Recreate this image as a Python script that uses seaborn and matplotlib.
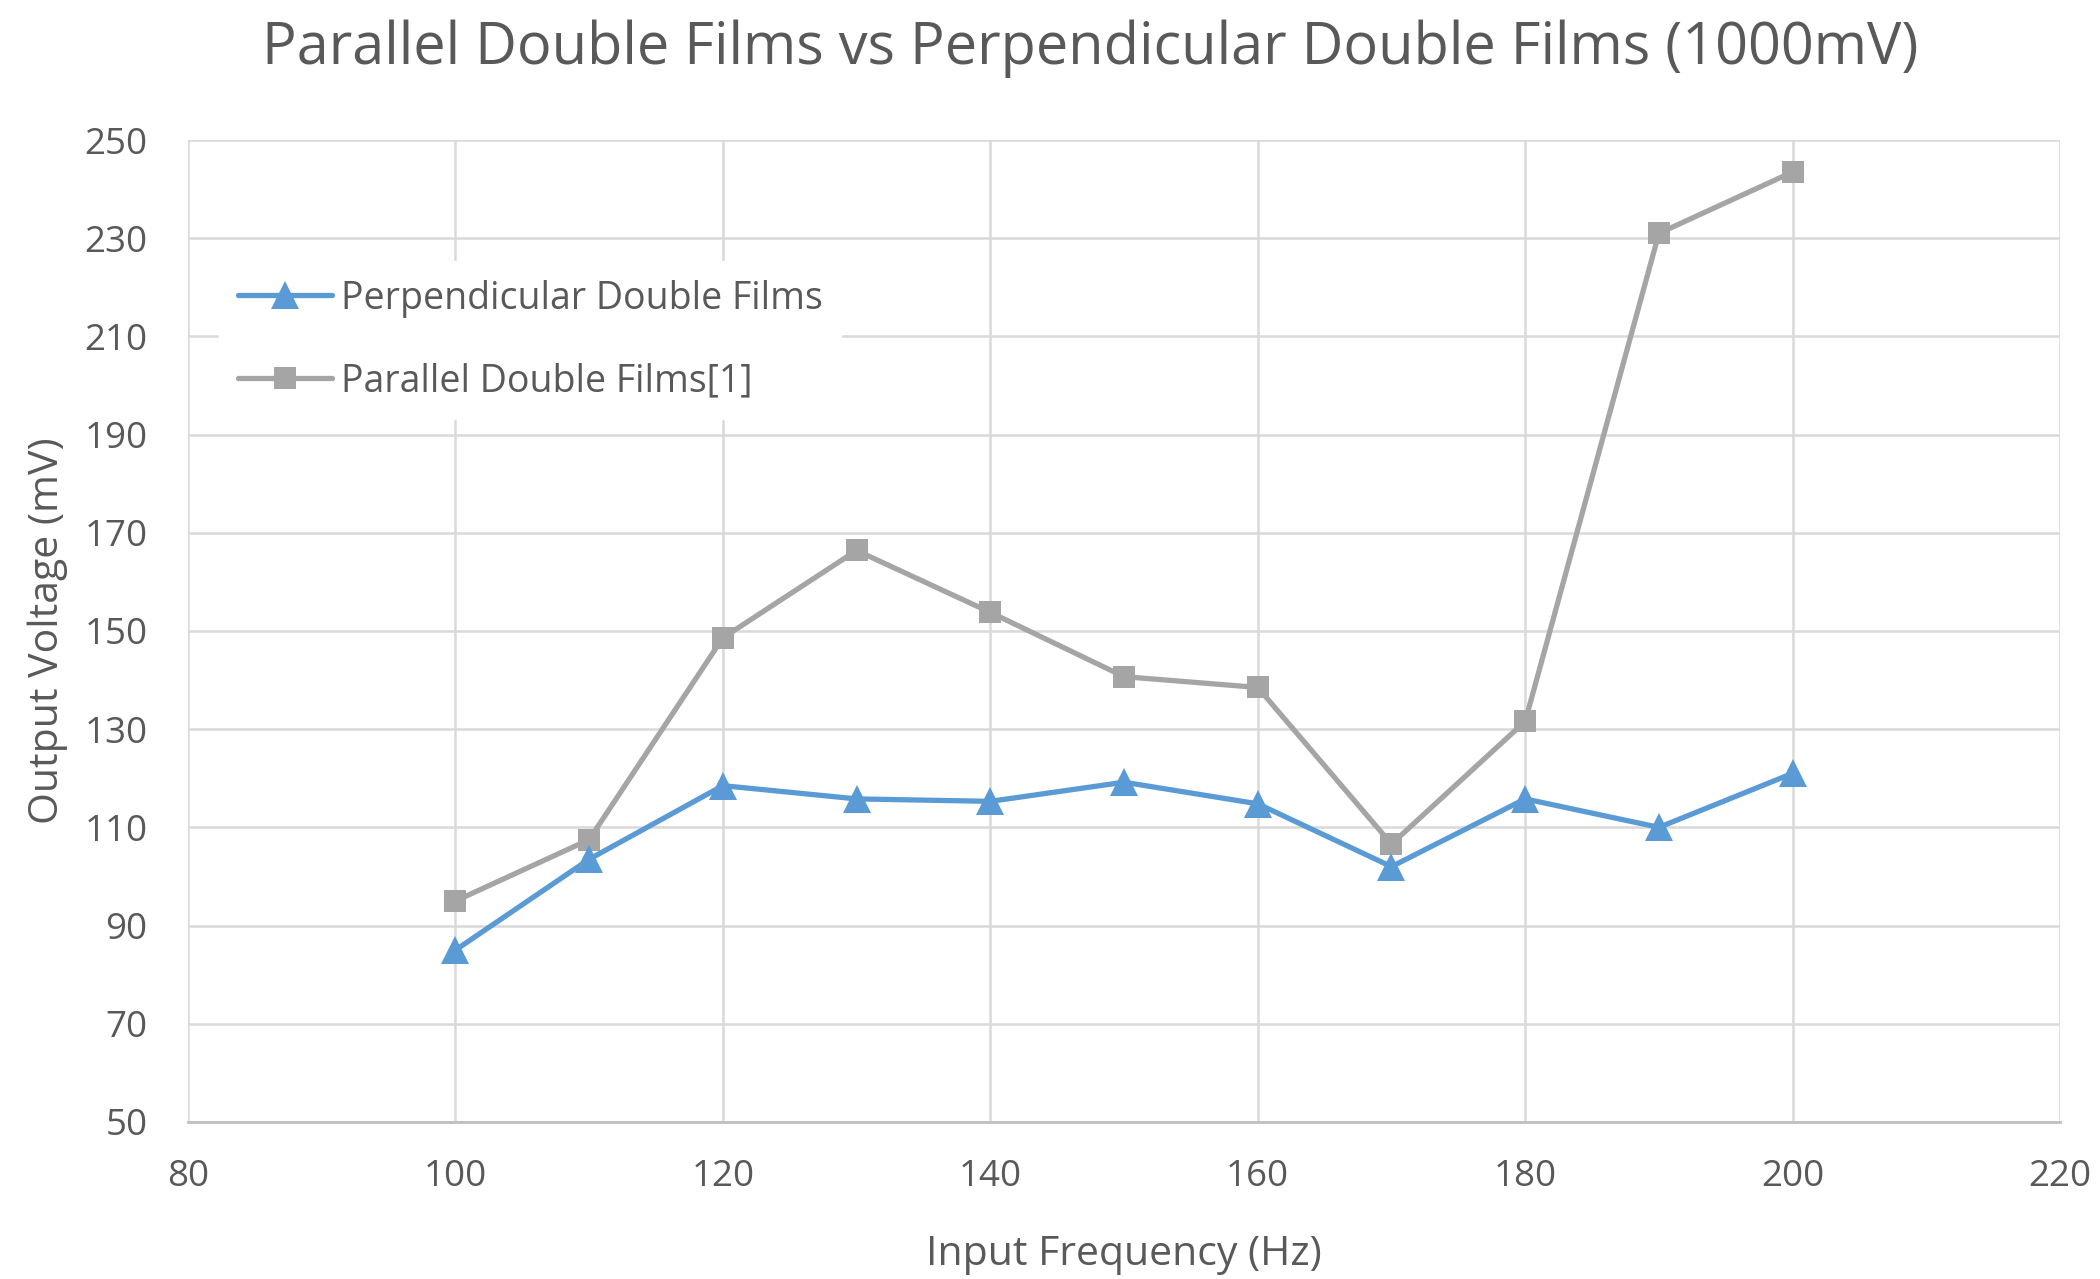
import matplotlib
matplotlib.use("Agg")
import matplotlib.pyplot as plt
import seaborn as sns
import pandas as pd
from matplotlib.lines import Line2D

frequency_hz = [100, 110, 120, 130, 140, 150, 160, 170, 180, 190, 200]
perpendicular_mv = [85.0, 103.5, 118.5, 115.8, 115.3, 119.2, 114.8, 102.0, 115.8, 110.0, 121.0]
parallel_mv = [95.0, 107.5, 148.6, 166.4, 153.8, 140.7, 138.5, 106.6, 131.6, 231.0, 243.5]

series_names = ["Perpendicular Double Films", "Parallel Double Films[1]"]
x_ticks = [80, 100, 120, 140, 160, 180, 200, 220]
y_ticks = [50, 70, 90, 110, 130, 150, 170, 190, 210, 230, 250]

title_text = "Parallel Double Films vs Perpendicular Double Films (1000mV)"
x_label = "Input Frequency (Hz)"
y_label = "Output Voltage (mV)"

df = pd.DataFrame({
    "freq": frequency_hz * 2,
    "volt": perpendicular_mv + parallel_mv,
    "series": [series_names[0]] * len(frequency_hz) + [series_names[1]] * len(frequency_hz),
})

sns.set_theme(style="white")
plt.rcParams["font.family"] = ["Open Sans", "DejaVu Sans"]

text_grey = "#595959"
grid_grey = "#D9D9D9"
blue = "#5B9BD5"
grey = "#A5A5A5"

fig = plt.figure(figsize=(21, 12.79), dpi=100)
ax = fig.add_axes([0.0895, 0.1228, 0.8915, 0.7677])

palette = {series_names[0]: blue, series_names[1]: grey}
markers = {series_names[0]: "^", series_names[1]: "s"}
sizes_pt = {series_names[0]: 20, series_names[1]: 15.5}
line_w = 3.8

# draw parallel first so the blue series sits on top
for name in [series_names[1], series_names[0]]:
    sub = df[df["series"] == name]
    sns.lineplot(data=sub, x="freq", y="volt", ax=ax, color=palette[name],
                 marker=markers[name], markersize=sizes_pt[name],
                 markeredgewidth=0, linewidth=line_w, legend=False, zorder=3)

ax.set_xlim(80, 220)
ax.set_ylim(50, 250)
ax.set_xticks(x_ticks)
ax.set_yticks(y_ticks)
ax.grid(True, color=grid_grey, linewidth=1.8, zorder=0)
for side in ["top", "right", "left"]:
    ax.spines[side].set_visible(False)
ax.spines["bottom"].set_color("#BFBFBF")
ax.spines["bottom"].set_linewidth(2.0)
ax.tick_params(axis="both", length=0, labelsize=26.5, labelcolor=text_grey)
ax.tick_params(axis="y", pad=29)
ax.tick_params(axis="x", pad=27)

ax.set_xlabel(x_label, fontsize=29.5, color=text_grey, labelpad=28)
ax.set_ylabel(y_label, fontsize=29.5, color=text_grey, labelpad=12)

fig.text(0.519, 0.962, title_text, ha="center", va="center",
         fontsize=41.5, color=text_grey)

handles = [
    Line2D([], [], color=blue, marker="^", markersize=sizes_pt[series_names[0]],
           markeredgewidth=0, linewidth=line_w),
    Line2D([], [], color=grey, marker="s", markersize=sizes_pt[series_names[1]],
           markeredgewidth=0, linewidth=line_w),
]
leg = ax.legend(handles, series_names, loc="upper left",
                bbox_to_anchor=(0.0166, 0.877), frameon=True, fontsize=27,
                labelcolor=text_grey, handlelength=2.5, handletextpad=0.25,
                labelspacing=1.2, borderpad=0.5, borderaxespad=0)
leg.get_frame().set_facecolor("white")
leg.get_frame().set_edgecolor("white")
leg.get_frame().set_alpha(1.0)
leg.set_zorder(5)

fig.savefig("out.png", dpi=100, facecolor="white")
